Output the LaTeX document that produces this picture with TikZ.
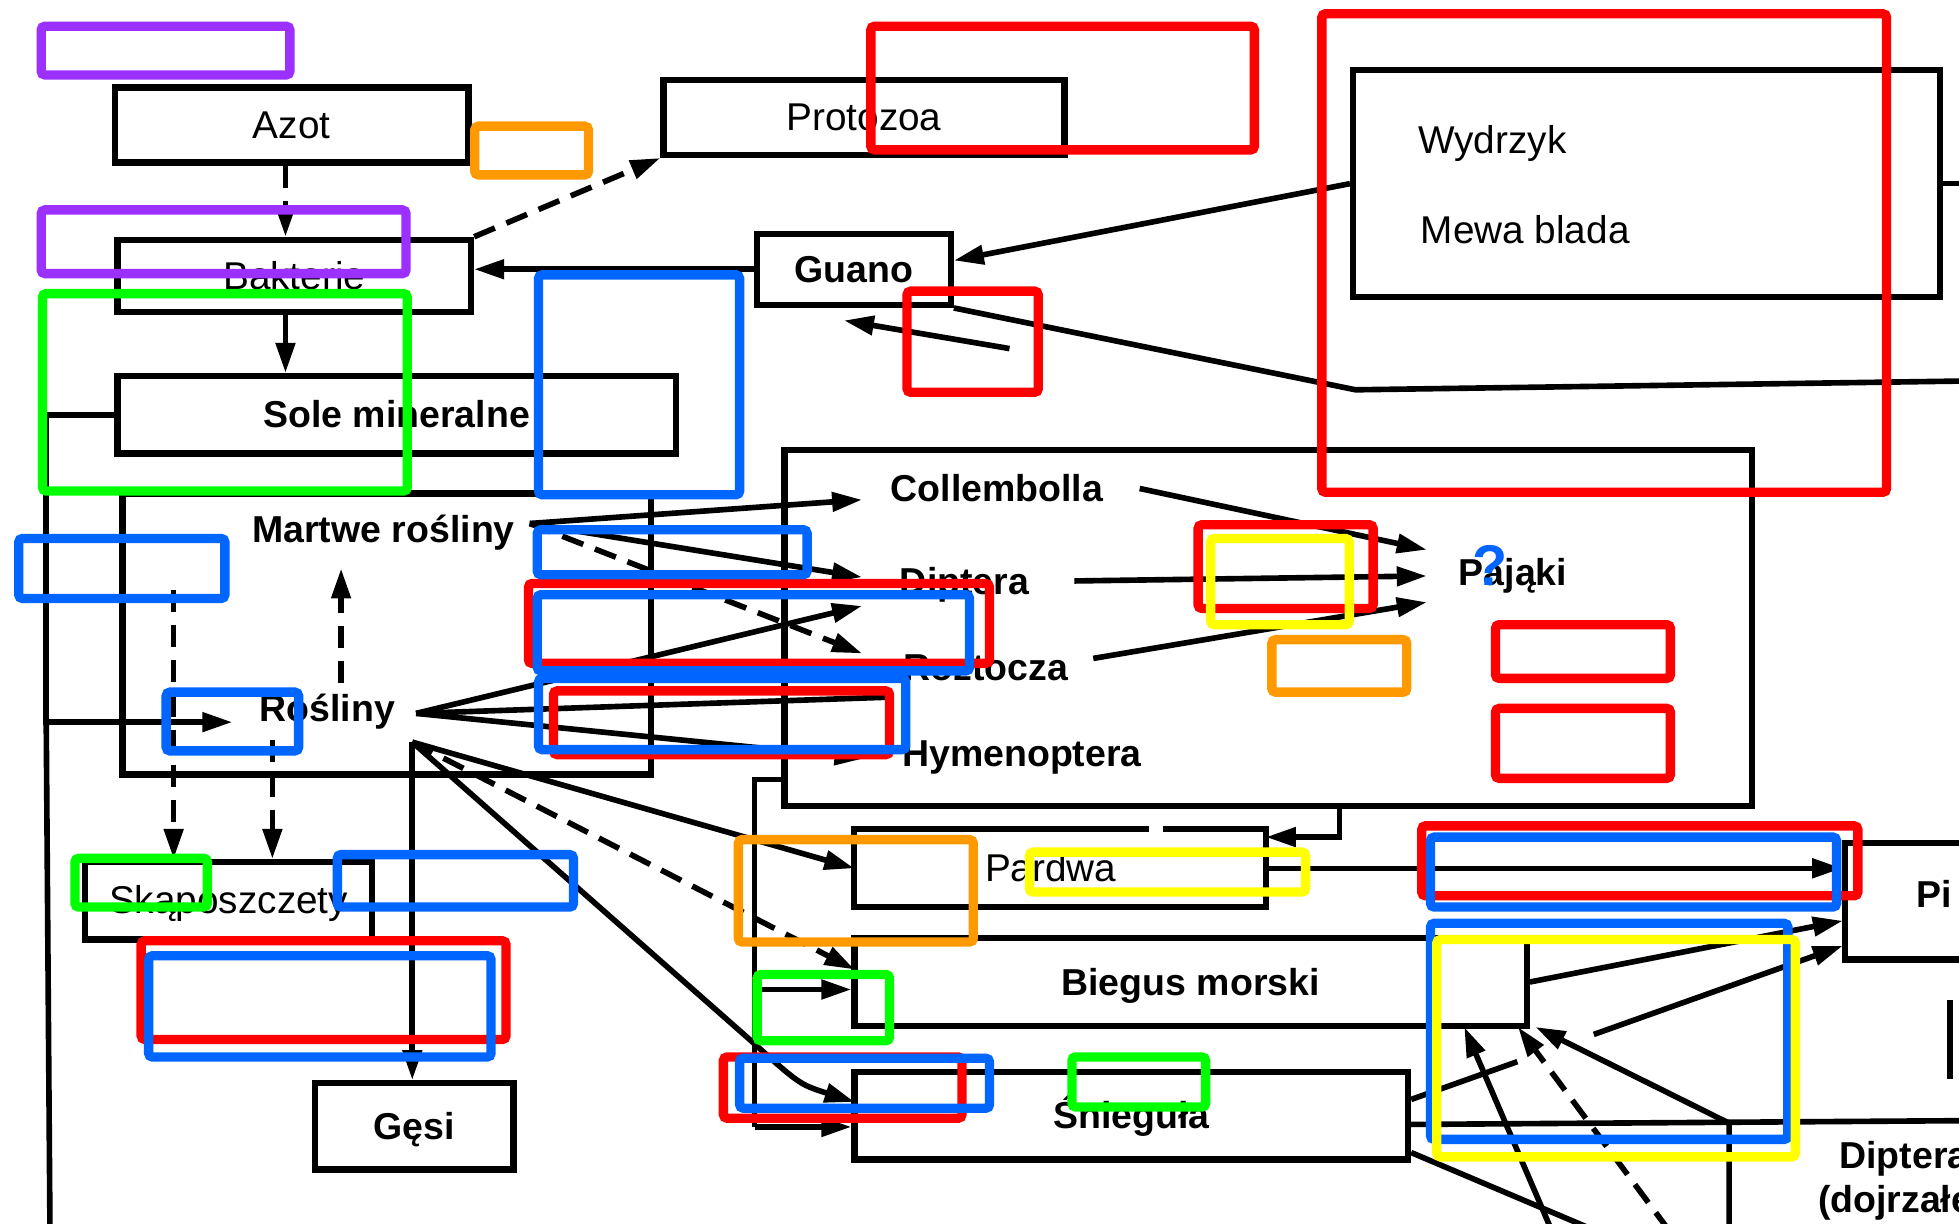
\documentclass[tikz,border=0pt]{standalone}
\usepackage{fontspec}
\setmainfont{Liberation Sans}
\usetikzlibrary{arrows.meta,calc}
\definecolor{hlred}{RGB}{255,0,0}
\definecolor{hlblue}{RGB}{0,102,255}
\definecolor{hlgreen}{RGB}{0,255,0}
\definecolor{hlorange}{RGB}{255,153,0}
\definecolor{hlyellow}{RGB}{255,255,0}
\definecolor{hlpurple}{RGB}{155,48,255}
\begin{document}
\begin{tikzpicture}[x=1pt,y=-1pt,
  frame/.style={draw, line width=5pt, inner sep=0pt, text height=21pt, text depth=0pt},
  tb/.style={font=\fontsize{30}{36}\selectfont\bfseries},
  tn/.style={font=\fontsize{31}{36}\selectfont},
  lbl/.style={inner sep=0pt, text height=21pt, text depth=0pt},
  link/.style={line width=4.5pt},
  arr/.style={line width=4.5pt, -{Triangle[length=24pt,width=15pt]}},
  brk/.style={dash pattern=on 18pt off 10pt},
  hl/.style={line width=7.5pt, rounded corners=3pt}]

\fill[white] (0,0) rectangle (1568,979);
\useasboundingbox (0,0) rectangle (1568,979);

% ---------- boxes ----------
\node[frame, tn, minimum width=283pt, minimum height=60pt] (azot) at (233.5,100) {Azot};
\node[frame, tn, minimum width=283pt, minimum height=58pt] (bakt) at (235.5,221) {Bakterie};
\node[frame, tb, minimum width=447pt, minimum height=62pt] (sole) at (317.5,332) {Sole mineralne};
\node[frame, tn, minimum width=321pt, minimum height=60pt] (proto) at (691.5,94) {Protozoa};
\node[frame, tb, minimum width=155pt, minimum height=57pt] (guano) at (683.5,215.5) {Guano};
\node[frame, minimum width=470pt, minimum height=182pt] (wyd) at (1318,147) {};
\node[lbl, tn, anchor=west] (wydT) at (1135,112) {Wydrzyk};
\node[lbl, tn, anchor=west] (mewaT) at (1137,184) {Mewa blada};

\node[frame, minimum width=423pt, minimum height=225pt] (plants) at (309.5,507.5) {};
\node[lbl, tb] (martwe) at (307,424) {Martwe rośliny};
\node[lbl, tb] (rosl) at (262,567) {Rośliny};

\node[frame, minimum width=774pt, minimum height=285pt] (insects) at (1015,502.5) {};
\node[lbl, tb] (coll) at (798,391) {Collembolla};
\node[lbl, tb] (dip) at (772,465) {Diptera};
\node[lbl, tb] (roz) at (789,534) {Roztocza};
\node[lbl, tb] (hym) at (818,603) {Hymenoptera};
\node[lbl, tb] (paj) at (1211,458) {Pająki};

\node[frame, tn, minimum width=230pt, minimum height=62pt] (skap) at (183,721) {Skąposzczety};
\node[frame, tb, minimum width=159pt, minimum height=69pt] (gesi) at (331.5,901.5) {Gęsi};

\node[lbl, minimum width=329pt, minimum height=62pt] (pardwa) at (848.5,695) {};
\node[lbl, tn] (pardwaT) at (841,695) {Pardwa};
\draw[line width=5pt] ([xshift=236pt]pardwa.north west) -- (pardwa.north west) -- (pardwa.south west)
  -- (pardwa.south east) -- (pardwa.north east) -- ([xshift=-82pt]pardwa.north east);
\node[frame, tb, minimum width=538pt, minimum height=70pt] (biegus) at (953,786) {Biegus morski};
\node[frame, tb, minimum width=443pt, minimum height=70pt] (snieg) at (905.5,893) {Śnieguła};
\node[frame, minimum width=143pt, minimum height=93pt] (pi) at (1548.5,721.5) {};
\node[lbl, tb, anchor=west] (piT) at (1534,716) {Pi};
\node[lbl, tb, anchor=west] (dipR) at (1472,925) {Diptera};
\node[lbl, tb, anchor=west] (dipR2) at (1455,960) {(dojrzałe)};

% ---------- free ends and bends ----------
\coordinate (gtail) at (808,279);
\coordinate (gbend) at (1085,312);
\coordinate (gend) at (1570,305);
\coordinate (lcorner) at (37,578);
\coordinate (lbottom) at (40,985);
\coordinate (rin) at (186,578);
\coordinate (rm) at (273,547);
\coordinate (rmtip) at (273,455);
\coordinate (ms) at (139,472);
\coordinate (rs) at (218,592);
\coordinate (apexR) at (333,571);
\coordinate (apexD) at (330,594);
\coordinate (mstart) at (424,419);
\coordinate (colTip) at (690,400);
\coordinate (dipTip) at (690,462);
\coordinate (rozTip) at (690,523);
\coordinate (dipTip2) at (690,485);
\coordinate (midEnd) at (712,558);
\coordinate (hymTip) at (692,607);
\coordinate (pA) at (1142,440);
\coordinate (pB) at (1142,461);
\coordinate (pC) at (1142,482);
\coordinate (pc) at (1072,670);
\coordinate (ctop) at (604,624);
\coordinate (cmid) at (604,792);
\coordinate (cbot) at (604,902);
\coordinate (bTip) at (684,776);
\coordinate (sBend) at (600,832);
\coordinate (sTip) at (684,882);
\coordinate (piA) at (1475,737);
\coordinate (piB) at (1475,757);
\coordinate (b1) at (1242,985);
\coordinate (b1t) at (1172,822);
\coordinate (b2) at (1336,985);
\coordinate (b2t) at (1215,822);
\coordinate (b3) at (1384,985);
\coordinate (b3k) at (1384,899);
\coordinate (b3t) at (1229,822);
\coordinate (sOut) at (1277,985);
\coordinate (rOut) at (1570,897);

% ---------- connectors ----------
\draw[arr, brk] ([xshift=-5pt]azot.south) -- ([xshift=-7pt]bakt.north);
\draw[arr] ([xshift=-7pt]bakt.south) -- ([xshift=-89pt]sole.north);
\draw[arr, brk] (bakt.north east) -- (proto.south west);
\draw[arr] (guano.west) -- (guano.west -| bakt.east);
\draw[arr] (wyd.west) -- ([yshift=7pt]guano.east);
\draw[arr] (gtail) -- ([xshift=-8pt,yshift=-10pt]guano.south);
\draw[link] (guano.south east) -- (gbend) -- (gend);
\draw[link] (wyd.east) -- ++(20,0);

\draw[arr] (sole.west) -| (lcorner) -- (rin);
\draw[link] (lcorner) -- (lbottom);
\draw[arr, brk] (rm) -- (rmtip);
\draw[arr, brk] (ms) -- (ms |- skap.north);
\draw[arr, brk] (rs) -- (rs |- skap.north);
\draw[arr] (apexD) -- (apexD |- gesi.north);

\draw[arr] (mstart) -- (colTip);
\draw[arr] (mstart) -- (dipTip);
\draw[arr, brk] (mstart) -- (rozTip);
\draw[arr] (apexR) -- (dipTip2);
\draw[link] (apexR) -- (midEnd);
\draw[arr] (apexR) -- (hymTip);

\draw[arr] ([xshift=29pt]coll.east) -- (pA);
\draw[arr] ([xshift=36pt]dip.east) -- (pB);
\draw[arr] ([xshift=20pt,yshift=7pt]roz.east) -- (pC);

\draw[arr] (pc |- insects.south) -- (pc) -- (pc -| pardwa.east);
\draw[link] (ctop -| insects.west) -- (ctop) -- (cbot);
\draw[arr] (cmid) -- (cmid -| biegus.west);
\draw[arr] (cbot) -- (cbot -| snieg.west);

\draw[arr] (apexD) -- (pardwa.west);
\draw[arr, brk] (apexD) -- (bTip);
\draw[arr] (apexD) -- (sBend) .. controls (640,868) .. (sTip);

\draw[arr] (pardwa.east) -- (pardwa.east -| pi.west);
\draw[arr] (biegus.east) -- (piA);
\draw[link] ([yshift=13pt]snieg.east) -- ($([yshift=13pt]snieg.east)!0.246!(piB)$);
\draw[arr] ($([yshift=13pt]snieg.east)!0.423!(piB)$) -- (piB);

\draw[arr] (b1) -- (b1t);
\draw[arr, brk] (b2) -- (b2t);
\draw[arr] (b3) -- (b3k) -- (b3t);
\draw[link] ([yshift=8pt]snieg.south east) -- (sOut);
\draw[link] ([yshift=-7pt]snieg.east) -- (rOut);
\draw[link] (1561,800) -- (1561,864);

% ---------- highlight frames ----------
\begin{scope}[hl, draw=hlred]
  \draw (697,21) rectangle (1004,120);
  \draw (1058,11) rectangle (1510,394);
  \draw (726,233) rectangle (831,314);
  \draw (423,467) rectangle (792,531);
  \draw (443,553) rectangle (712,604);
  \draw (959,420) rectangle (1099,487);
  \draw (1197,500) rectangle (1337,543);
  \draw (1197,567) rectangle (1337,623);
  \draw (113,753) rectangle (405,832);
  \draw (1138,661) rectangle (1487,717);
  \draw (579,846) rectangle (770,895);
\end{scope}
\begin{scope}[hl, draw=hlblue]
  \draw (431,220) rectangle (592,396);
  \draw (15,431) rectangle (180,479);
  \draw (430,424) rectangle (646,460);
  \draw (430,476) rectangle (776,537);
  \draw (431,543) rectangle (725,600);
  \draw (133,554) rectangle (239,601);
  \draw (270,684) rectangle (459,726);
  \draw (119,765) rectangle (393,846);
  \draw (1145,670) rectangle (1470,726);
  \draw (1145,739) rectangle (1431,912);
  \draw (592,847) rectangle (792,887);
\end{scope}
\begin{scope}[hl, draw=hlgreen]
  \draw (34,235) rectangle (326,393);
  \draw (60,687) rectangle (166,726);
  \draw (606,780) rectangle (712,833);
  \draw (858,846) rectangle (965,886);
\end{scope}
\begin{scope}[hl, draw=hlorange]
  \draw (380,101) rectangle (471,140);
  \draw (1018,512) rectangle (1126,554);
  \draw (591,672) rectangle (779,754);
\end{scope}
\begin{scope}[hl, draw=hlpurple]
  \draw (33,21) rectangle (232,60);
  \draw (33,168) rectangle (325,219);
\end{scope}
\begin{scope}[hl, draw=hlyellow]
  \draw (969,431) rectangle (1080,500);
  \draw (824,682) rectangle (1045,714);
  \draw (1150,752) rectangle (1437,926);
\end{scope}
\node[lbl, text=hlblue, font=\fontsize{46}{50}\selectfont\bfseries, text height=33pt] (qmark) at (1193,452) {?};

\end{tikzpicture}
\end{document}
